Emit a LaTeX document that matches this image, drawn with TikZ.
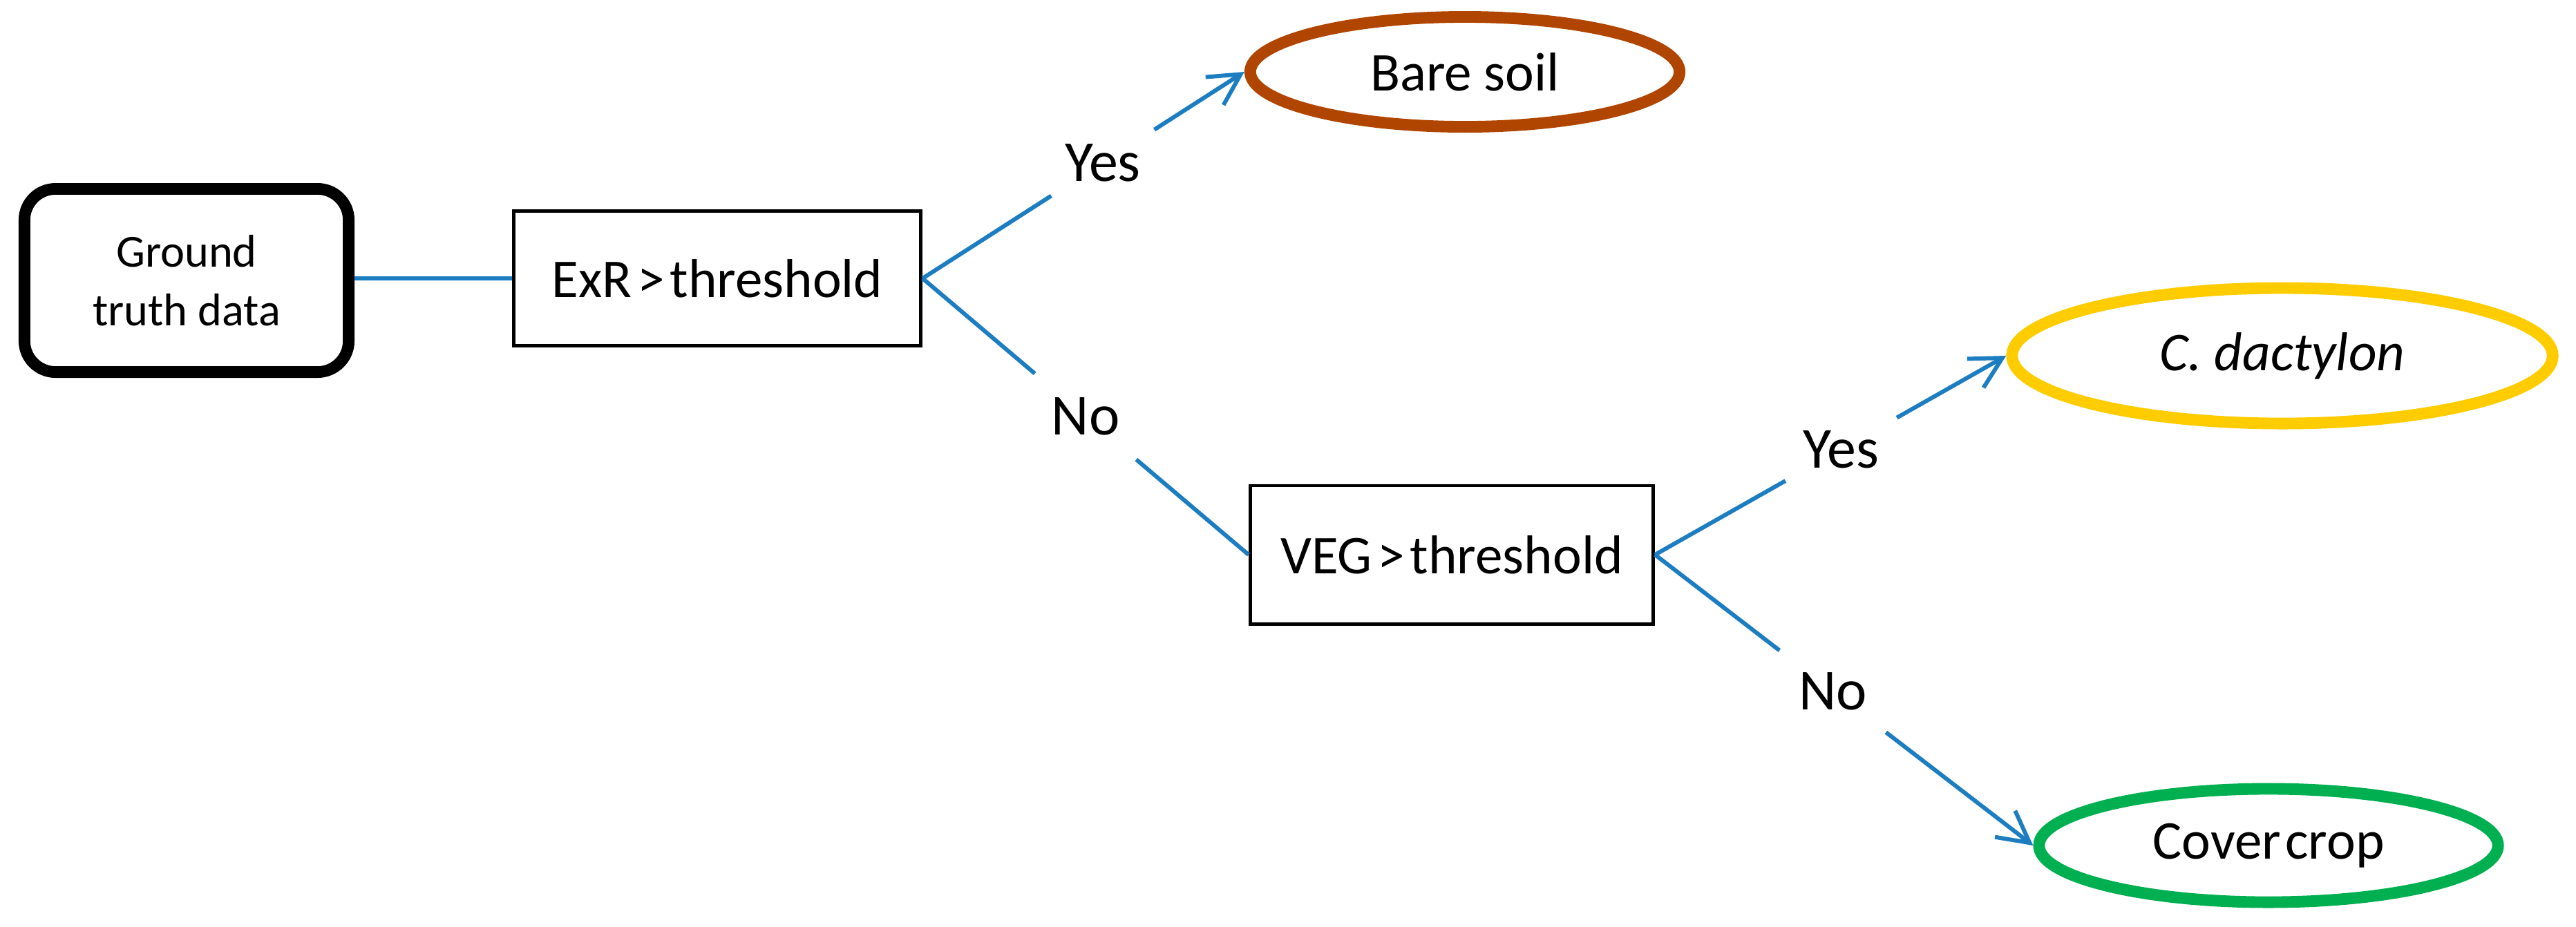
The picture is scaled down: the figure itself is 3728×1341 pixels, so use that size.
\documentclass[tikz,border=0pt]{standalone}
\usepackage{fontspec}
\setmainfont{Carlito}
\usetikzlibrary{shapes.geometric,arrows.meta}
\definecolor{lineblue}{RGB}{28,126,193}
\definecolor{soilbrown}{RGB}{176,69,0}
\definecolor{cdyellow}{RGB}{255,204,0}
\definecolor{covergreen}{RGB}{0,176,80}
\newcommand\boxfont{\fontsize{22.5}{27}\selectfont\spaceskip=0.1em\relax}
\newcommand\coverfont{\fontsize{22.5}{27}\selectfont\spaceskip=0.08em\relax}
\begin{document}
\begin{tikzpicture}[x=0.01cm,y=-0.01cm,
  startbox/.style={draw=black, line width=4.8pt, rounded corners=0.45cm, minimum width=4.69cm, minimum height=2.65cm, align=center, font=\fontsize{18.9}{24.2}\selectfont, inner sep=0pt},
  testbox/.style={draw=black, line width=1.4pt, inner sep=0pt, font=\boxfont},
  leaf/.style={ellipse, line width=4.8pt, inner sep=0pt, font=\fontsize{22.5}{27}\selectfont},
  conn/.style={draw=lineblue, line width=1.7pt},
  arrowconn/.style={conn, -{Straight Barb[length=0.45cm,width=0.48cm]}},
  gaplabel/.style={circle, fill=white, inner sep=0pt, font=\fontsize{23.9}{28}\selectfont, text=black}
]
\useasboundingbox (0,0) rectangle (3728,1341);
\node[startbox] (ground) at (270,406) {Ground\\truth data};
\node[testbox, minimum width=5.89cm, minimum height=1.95cm] (exr) at (1038,403) {ExR > threshold};
\node[testbox, minimum width=5.83cm, minimum height=2.0cm] (veg) at (2101,803) {VEG > threshold};
\node[leaf, draw=soilbrown, minimum width=6.21cm, minimum height=1.59cm] (bare) at (2120,104) {Bare soil};
\node[leaf, draw=cdyellow, minimum width=7.82cm, minimum height=1.96cm] (cdact) at (3303,515) {\textit{C. dactylon}};
\node[leaf, draw=covergreen, minimum width=6.64cm, minimum height=1.64cm, font=\coverfont] (cover) at (3283,1224) {Cover crop};
\draw[conn] (exr.west -| ground.east) -- (exr.west);
\draw[arrowconn] (exr.east) -- node[gaplabel, minimum size=1.77cm, pos=0.56]{Yes} (bare.west);
\draw[conn] (exr.east) -- node[gaplabel, minimum size=1.92cm, pos=0.5]{No} (veg.west);
\draw[arrowconn] (veg.east) -- node[gaplabel, minimum size=1.85cm, pos=0.53]{Yes} (cdact.west);
\draw[arrowconn] (veg.east) -- node[gaplabel, minimum size=1.94cm, pos=0.47]{No} (cover.west);
\end{tikzpicture}
\end{document}
